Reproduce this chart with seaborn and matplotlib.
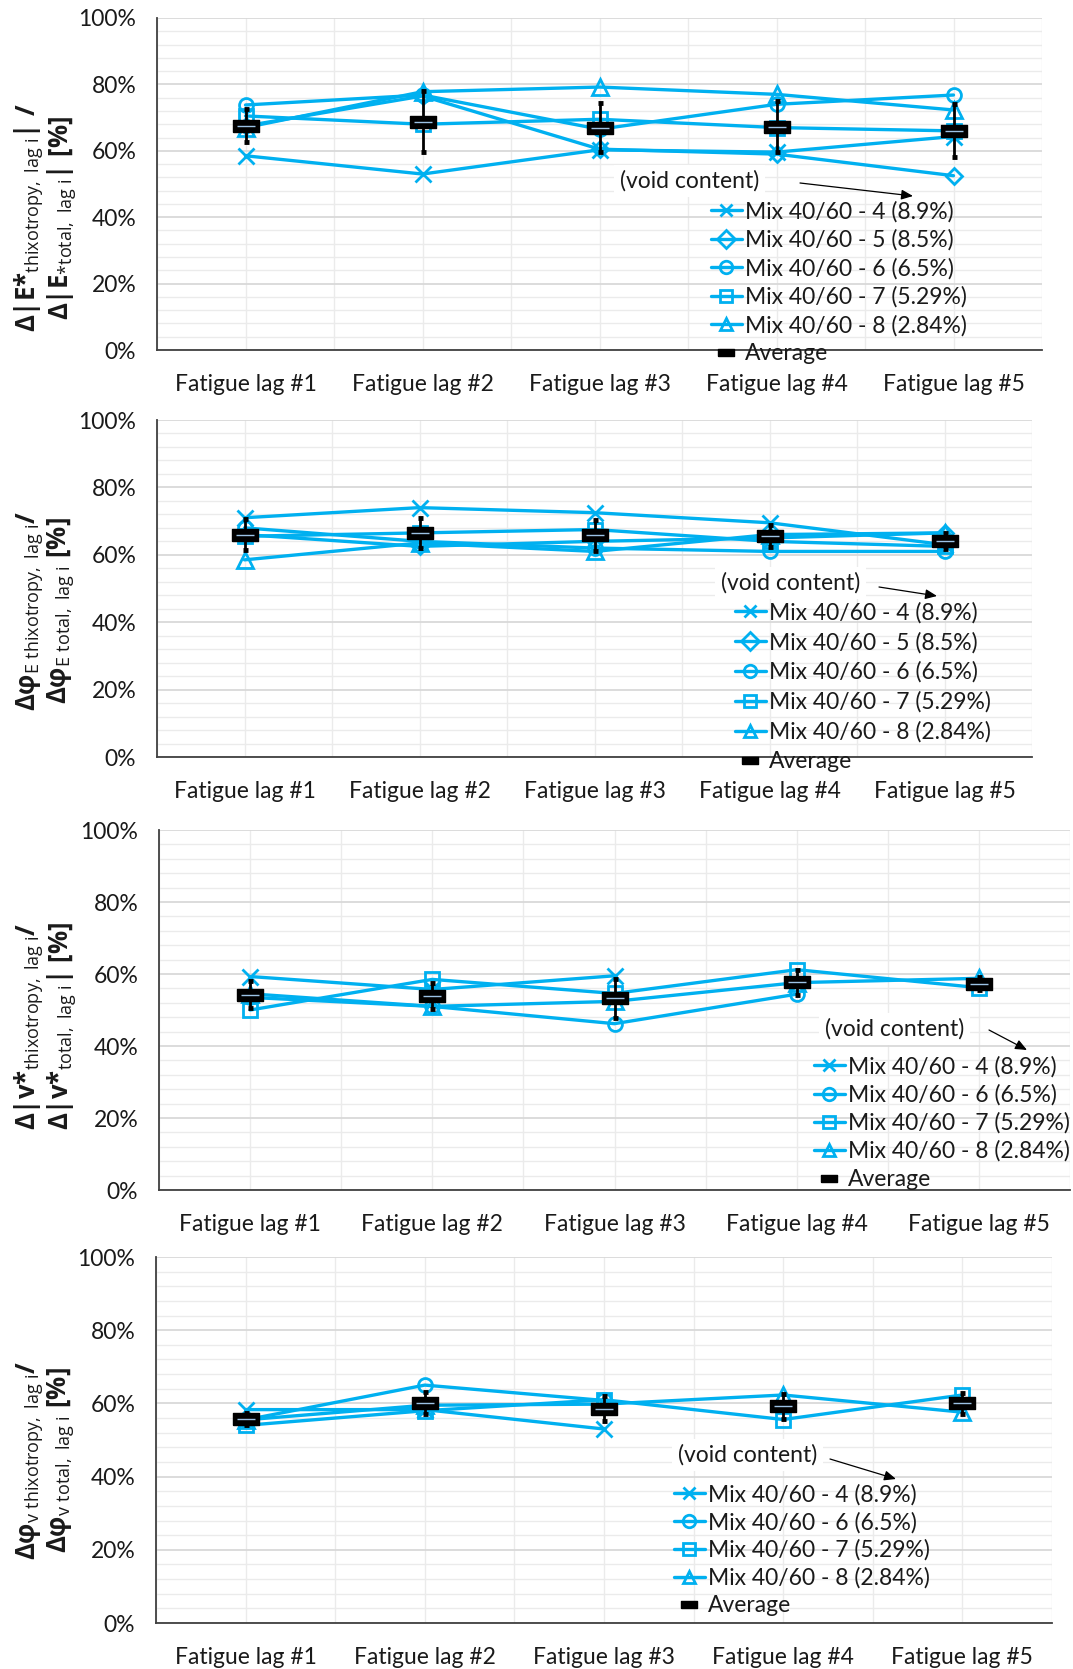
import numpy as np
import matplotlib
matplotlib.use("Agg")
import matplotlib.pyplot as plt
from matplotlib.lines import Line2D
from matplotlib.ticker import MultipleLocator, PercentFormatter
import seaborn as sns

W, H = 1073, 1669
BLUE = "#00B0F0"

lags = ["Fatigue lag #1", "Fatigue lag #2", "Fatigue lag #3", "Fatigue lag #4", "Fatigue lag #5"]
labels5 = ["Mix 40/60 - 4 (8.9%)", "Mix 40/60 - 5 (8.5%)", "Mix 40/60 - 6 (6.5%)",
           "Mix 40/60 - 7 (5.29%)", "Mix 40/60 - 8 (2.84%)"]
labels4 = ["Mix 40/60 - 4 (8.9%)", "Mix 40/60 - 6 (6.5%)",
           "Mix 40/60 - 7 (5.29%)", "Mix 40/60 - 8 (2.84%)"]
avg_label = "Average"
void_label = "(void content)"

# Panel 1: |E*|
p1_mix4 = [58.5, 53.0, 60.3, 59.6, 64.3]
p1_mix5 = [67.5, 76.5, 60.5, 59.0, 52.5]
p1_mix6 = [73.8, 76.8, 66.5, 74.0, 76.8]
p1_mix7 = [70.5, 68.0, 69.5, 67.0, 66.0]
p1_mix8 = [67.0, 77.8, 79.2, 77.0, 72.3]
p1_avg = [67.5, 68.8, 67.0, 67.3, 66.0]
p1_err = [5.0, 9.2, 7.3, 7.8, 8.0]

# Panel 2: phi_E
p2_mix4 = [71.0, 74.0, 72.5, 69.5, 63.0]
p2_mix5 = [66.0, 62.5, 64.0, 65.0, 66.5]
p2_mix6 = [68.0, 64.0, 62.0, 61.0, 61.0]
p2_mix7 = [65.5, 66.5, 67.5, 64.0, 62.5]
p2_mix8 = [58.5, 63.5, 61.0, 66.0, 66.5]
p2_avg = [66.0, 66.5, 65.8, 65.5, 64.0]
p2_err = [4.5, 4.5, 4.6, 3.2, 2.4]

# Panel 3: |v*|
p3_mix4 = [59.3, 55.7, 59.5, np.nan, np.nan]
p3_mix6 = [53.5, 51.0, 46.2, 54.4, np.nan]
p3_mix7 = [50.0, 58.5, 54.6, 61.2, 56.2]
p3_mix8 = [54.5, 51.0, 52.4, 57.6, 58.8]
p3_avg = [54.3, 54.0, 53.2, 57.7, 57.3]
p3_err = [3.8, 3.6, 5.5, 3.4, 1.8]

# Panel 4: phi_v
p4_mix4 = [58.3, 58.3, 53.0, np.nan, np.nan]
p4_mix6 = [55.5, 65.0, 60.8, np.nan, np.nan]
p4_mix7 = [54.0, 58.0, 61.0, 55.6, 62.3]
p4_mix8 = [55.5, 59.5, 59.8, 62.3, 57.6]
p4_avg = [55.8, 60.2, 58.6, 59.2, 60.0]
p4_err = [1.7, 3.0, 3.3, 3.5, 2.8]

yl1 = (r"$\mathbf{\Delta|E{*}}_{\mathrm{thixotropy,\ lag\ i}}\mathbf{|\ /}$" + "\n" +
       r"$\mathbf{\Delta|E}_{\mathrm{{*}total,\ lag\ i}}\mathbf{|\ [\%]}$")
yl2 = (r"$\mathbf{\Delta φ}_{\mathrm{E\ thixotropy,\ lag\ i}}\mathbf{/}$" + "\n" +
       r"$\mathbf{\Delta φ}_{\mathrm{E\ total,\ lag\ i}}\mathbf{\ [\%]}$")
yl3 = (r"$\mathbf{\Delta|v{*}}_{\mathrm{thixotropy,\ lag\ i}}\mathbf{/}$" + "\n" +
       r"$\mathbf{\Delta|v{*}}_{\mathrm{total,\ lag\ i}}\mathbf{|\ [\%]}$")
yl4 = (r"$\mathbf{\Delta φ}_{\mathrm{v\ thixotropy,\ lag\ i}}\mathbf{/}$" + "\n" +
       r"$\mathbf{\Delta φ}_{\mathrm{v\ total,\ lag\ i}}\mathbf{\ [\%]}$")

sns.set_style("white")
plt.rcParams["font.family"] = ["Lato", "DejaVu Sans"]
plt.rcParams["mathtext.fontset"] = "custom"
plt.rcParams["mathtext.rm"] = "Open Sans"
plt.rcParams["mathtext.bf"] = "Open Sans:bold"
plt.rcParams["mathtext.it"] = "Open Sans:italic"
plt.rcParams["mathtext.fallback"] = "stixsans"

MS = {"x": 11, "D": 8, "o": 10, "s": 10, "^": 11}
RECT = [(-1, -0.42), (1, -0.42), (1, 0.42), (-1, 0.42), (-1, -0.42)]
TXT = "#1a1a1a"
FS = 16.5

fig = plt.figure(figsize=(W / 100, H / 100), dpi=100)


def frac(x, y):
    return (x / W, 1 - y / H)


panels = [
    dict(rect=(157, 1042, 18, 350), labels=labels5, markers=["x", "D", "o", "s", "^"],
         data=[p1_mix4, p1_mix5, p1_mix6, p1_mix7, p1_mix8], avg=p1_avg, err=p1_err,
         ylabel=yl1, ylab_xy=(45, 218), leg=(711, 213), lsp=0.30, void=(620, 181),
         arrow=((800, 183), (913, 196))),
    dict(rect=(157, 1032, 420, 757), labels=labels5, markers=["x", "D", "o", "s", "^"],
         data=[p2_mix4, p2_mix5, p2_mix6, p2_mix7, p2_mix8], avg=p2_avg, err=p2_err,
         ylabel=yl2, ylab_xy=(45, 611), leg=(735, 614), lsp=0.36, void=(721, 583),
         arrow=((879, 587), (937, 596))),
    dict(rect=(159, 1070, 830, 1190), labels=labels4, markers=["x", "o", "s", "^"],
         data=[p3_mix4, p3_mix6, p3_mix7, p3_mix8], avg=p3_avg, err=p3_err,
         ylabel=yl3, ylab_xy=(45, 1026), leg=(814, 1068), lsp=0.29, void=(825, 1029),
         arrow=((989, 1030), (1027, 1050))),
    dict(rect=(156, 1052, 1257, 1623), labels=labels4, markers=["x", "o", "s", "^"],
         data=[p4_mix4, p4_mix6, p4_mix7, p4_mix8], avg=p4_avg, err=p4_err,
         ylabel=yl4, ylab_xy=(45, 1460), leg=(674, 1496), lsp=0.27, void=(678, 1455),
         arrow=((830, 1459), (896, 1479))),
]

xpos = np.arange(len(lags))

for p in panels:
    L, R, T, B = p["rect"]
    ax = fig.add_axes([L / W, 1 - B / H, (R - L) / W, (B - T) / H])

    for vals, mk in zip(p["data"], p["markers"]):
        sns.lineplot(x=xpos, y=np.asarray(vals, dtype=float), ax=ax, color=BLUE,
                     marker=mk, markersize=MS[mk], mfc="none", mec=BLUE, mew=2.0,
                     lw=2.4, estimator=None, errorbar=None, sort=False,
                     legend=False, zorder=3)

    ax.errorbar(xpos, p["avg"], yerr=p["err"], fmt="none", ecolor="black",
                elinewidth=2.0, capsize=1.8, capthick=3.5, zorder=4)
    ax.plot(xpos, p["avg"], ls="none", marker=RECT, ms=19, mfc="black",
            mec="black", mew=1, zorder=5)
    ax.plot(xpos, p["avg"], ls="none", marker="_", ms=13, mec="#9DC3E6",
            mew=1, zorder=6)

    ax.set_xlim(-0.5, len(lags) - 0.5)
    ax.set_ylim(0, 100)
    ax.set_xticks(xpos)
    ax.set_xticklabels(lags)
    ax.xaxis.set_minor_locator(MultipleLocator(0.5))
    ax.yaxis.set_major_locator(MultipleLocator(20))
    ax.yaxis.set_minor_locator(MultipleLocator(4))
    ax.yaxis.set_major_formatter(PercentFormatter(xmax=100, decimals=0))
    ax.grid(which="major", axis="y", color="#D9D9D9", lw=1.3, zorder=0)
    ax.grid(which="minor", axis="y", color="#EBEBEB", lw=1.0, zorder=0)
    ax.grid(which="both", axis="x", color="#EBEBEB", lw=1.0, zorder=0)
    ax.set_axisbelow(True)
    ax.tick_params(axis="both", which="both", length=0, labelsize=FS,
                   labelcolor=TXT)
    ax.tick_params(axis="y", pad=15)
    ax.tick_params(axis="x", pad=17)
    for s in ("top", "right"):
        ax.spines[s].set_visible(False)
    for s in ("left", "bottom"):
        ax.spines[s].set_color("#404040")
        ax.spines[s].set_linewidth(1.3)

    ax.set_ylabel(p["ylabel"], fontsize=18.5, color=TXT, ha="center", va="center",
                  rotation=90, rotation_mode="anchor", linespacing=1.0)
    lx, ly = p["ylab_xy"]
    ax.yaxis.set_label_coords((lx - L) / (R - L), (B - ly) / (B - T))

    handles = [Line2D([0], [0], color=BLUE, lw=2.4, marker=mk, ms=9,
                      mfc="none", mec=BLUE, mew=2.0) for mk in p["markers"]]
    handles.append(Line2D([0], [0], ls="none", marker=RECT, ms=12,
                          mfc="black", mec="black"))
    leg_labels = list(p["labels"]) + [avg_label]
    hx, hy = p["leg"]
    ax.legend(handles, leg_labels, loc="upper left",
              bbox_to_anchor=frac(hx, hy - 12), bbox_transform=fig.transFigure,
              frameon=False, fontsize=FS, handlelength=1.35, handletextpad=0.12,
              labelspacing=p["lsp"], borderpad=0, borderaxespad=0, numpoints=1,
              labelcolor=TXT)

    vx, vy = p["void"]
    ax.annotate(void_label, xy=frac(vx, vy), xycoords="figure fraction",
                ha="left", va="center", fontsize=FS, color=TXT, zorder=7,
                bbox=dict(boxstyle="square,pad=0.25", fc="white", ec="none"))
    (ax0, ay0), (ax1, ay1) = p["arrow"]
    ax.annotate("", xy=frac(ax1, ay1), xycoords="figure fraction",
                xytext=frac(ax0, ay0), textcoords="figure fraction",
                arrowprops=dict(arrowstyle="-|>,head_length=0.7,head_width=0.3",
                                color="black", lw=0.9, shrinkA=0, shrinkB=0),
                zorder=7)

fig.savefig("out.png", dpi=100)
